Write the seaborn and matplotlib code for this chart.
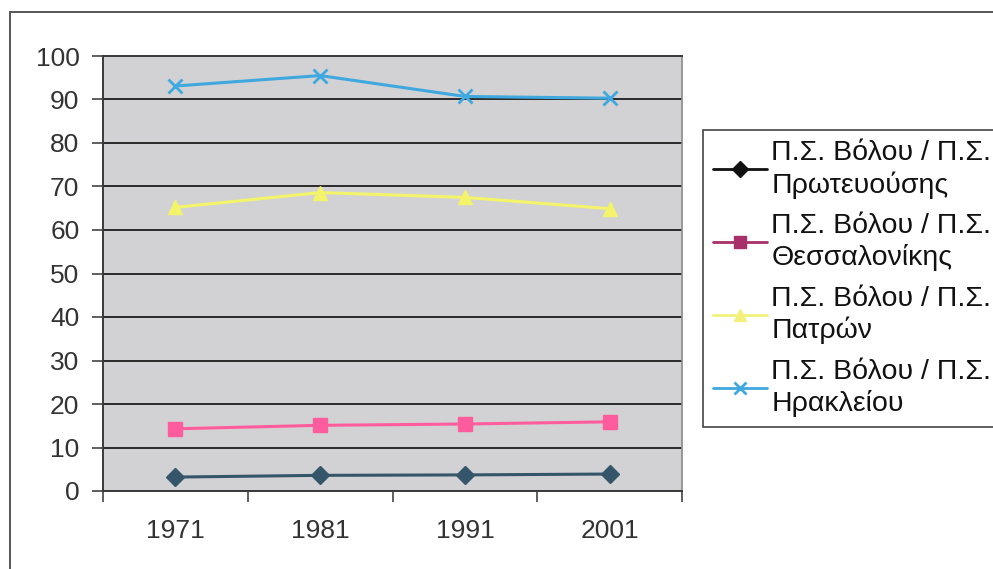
import matplotlib
matplotlib.use("Agg")
import matplotlib.pyplot as plt
from matplotlib.lines import Line2D
from matplotlib.patches import Rectangle
import seaborn as sns

years = ["1971", "1981", "1991", "2001"]
athens = [3.2, 3.6, 3.7, 3.9]
thessaloniki = [14.3, 15.1, 15.4, 15.9]
patras = [65.2, 68.6, 67.5, 64.9]
heraklion = [93.1, 95.5, 90.7, 90.3]
labels = [
    "Π.Σ. Βόλου / Π.Σ.\nΠρωτευούσης",
    "Π.Σ. Βόλου / Π.Σ.\nΘεσσαλονίκης",
    "Π.Σ. Βόλου / Π.Σ.\nΠατρών",
    "Π.Σ. Βόλου / Π.Σ.\nΗρακλείου",
]

sns.set_style("white")
plt.rcParams["font.family"] = ["Liberation Sans", "DejaVu Sans"]

fig = plt.figure(figsize=(9.93, 5.69), dpi=100)
ax = fig.add_axes([103 / 993, 78 / 569, 579 / 993, 435 / 569])
ax.set_facecolor("#d2d2d4")

pos = list(range(len(years)))
series = [
    (athens, "#35566a", "D", 9, "#111111"),
    (thessaloniki, "#ff5c9e", "s", 10, "#a8306a"),
    (patras, "#f4f46a", "^", 10, "#f2f27a"),
    (heraklion, "#3fa8de", "x", 10, "#3fa8de"),
]
handles = []
for vals, col, mk, ms, lcol in series:
    sns.lineplot(x=pos, y=vals, ax=ax, color=col, marker=mk, markersize=ms,
                 markeredgecolor=col, markeredgewidth=2 if mk == "x" else 1,
                 linewidth=2.2)
    handles.append(Line2D([], [], color=lcol, marker=mk, markersize=ms - 1,
                          markeredgecolor=lcol,
                          markeredgewidth=2 if mk == "x" else 1, linewidth=2))

ax.set_xlim(-0.5, 3.5)
ax.set_ylim(0, 100)
ax.set_yticks(range(0, 101, 10))
ax.yaxis.grid(True, color="#2a2a2a", linewidth=1.4)
ax.set_axisbelow(True)
ax.set_xticks(pos)
ax.set_xticklabels(years, family=["Liberation Sans Narrow", "Liberation Sans"],
                   fontsize=19)
ax.set_xticks([-0.5, 0.5, 1.5, 2.5, 3.5], minor=True)
ax.tick_params(axis="x", which="major", length=0, pad=20,
               labelcolor="#333333")
ax.tick_params(axis="x", which="minor", length=8, width=1.2, color="#444444",
               direction="out", bottom=True)
ax.tick_params(axis="y", length=8, width=1.2, color="#444444", direction="out",
               left=True, pad=9, labelsize=19, labelcolor="#333333")
ax.spines["right"].set_color("#8a8a8a")
ax.spines["right"].set_linewidth(1.2)
for side in ["left", "bottom", "top"]:
    ax.spines[side].set_color("#3a3a3a")
    ax.spines[side].set_linewidth(1.4)
ax.set_xlabel("")
ax.set_ylabel("")

leg = fig.legend(handles, labels, loc="upper left",
                 bbox_to_anchor=(703 / 993, 1 - 130 / 569),
                 bbox_transform=fig.transFigure, borderaxespad=0,
                 frameon=True, fancybox=False, framealpha=1,
                 fontsize=20.5, handlelength=1.9, handletextpad=0.15,
                 labelspacing=0.5, borderpad=0.35)
leg.get_frame().set_edgecolor("#444444")
leg.get_frame().set_linewidth(1.2)
for t in leg.get_texts():
    t.set_color("#111111")
    t.set_linespacing(1.25)

fig.add_artist(Rectangle((10 / 993, -0.1), 1.2, (569 - 12) / 569 + 0.1,
                         transform=fig.transFigure, fill=False,
                         edgecolor="#555555", linewidth=1.4))

fig.savefig("out.png", dpi=100)
